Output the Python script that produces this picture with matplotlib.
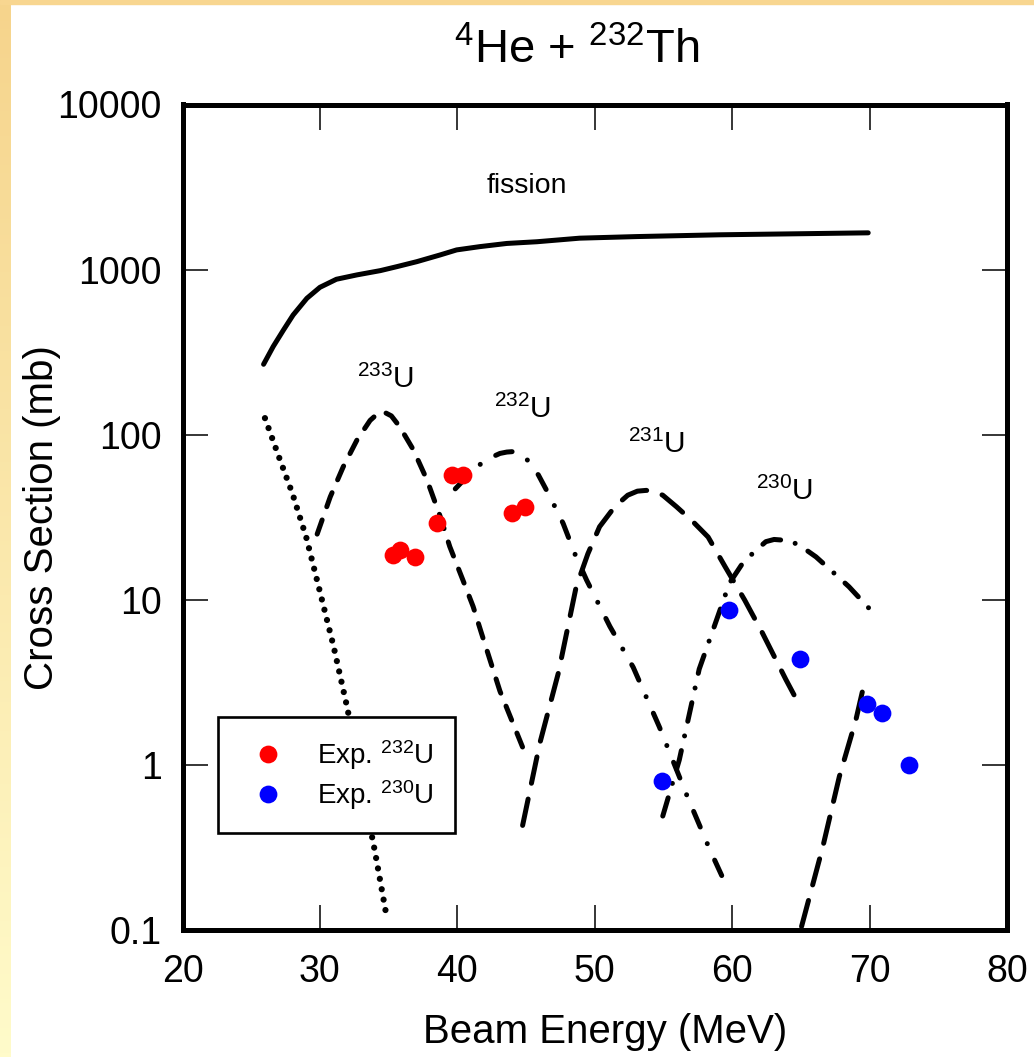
import matplotlib
matplotlib.use("Agg")
import numpy as np
import matplotlib.pyplot as plt
from matplotlib.colors import LinearSegmentedColormap
from matplotlib.patches import Rectangle
from matplotlib.ticker import FuncFormatter, NullLocator


# values: beam energy (MeV) vs cross section (mb)

fission_e = [25.9, 26.6, 27.35, 28.05, 29.05, 30.0, 31.2, 32.7, 34.4, 35.6,
             37.05, 38.75, 39.95, 41.65, 43.6, 45.8, 48.9, 53.05, 59.1,
             65.2, 69.9]
fission_xs = [267, 342, 431, 531, 670, 781, 874, 929, 986, 1042,
              1117, 1227, 1316, 1378, 1440, 1475, 1550, 1585, 1625,
              1650, 1670]

# dotted curve on the far left
u234_e = [26.0, 27.0, 28.0, 29.0, 30.0, 31.0, 32.0, 33.0, 34.0, 34.9]
u234_xs = [126, 74, 44, 24, 11.2, 5.2, 2.2, 0.79, 0.30, 0.115]

u233_e = [29.8, 30.75, 31.7, 32.7, 33.65, 34.15, 34.6, 35.2, 35.8, 36.8,
          37.8, 38.75, 39.45, 40.4, 41.15, 41.75, 43.1, 44.8]
u233_xs = [25, 42, 64, 93, 122, 133, 138, 130, 112, 81,
           53, 32, 21, 13.2, 9.1, 6.3, 2.8, 1.25]

u232_e = [39.85, 40.9, 42.0, 43.1, 43.6, 44.05, 44.55, 45.0, 45.9, 46.75,
          47.7, 48.55, 49.4, 51.1, 52.8, 54.7, 56.65, 58.35, 59.65]
u232_xs = [47, 58, 70, 77, 78.5, 79, 77, 72, 57, 42,
           29, 19, 13.2, 6.9, 3.9, 1.7, 0.67, 0.31, 0.18]

u231_e = [44.75, 46.0, 47.35, 48.65, 49.5, 50.35, 51.45, 52.4, 53.1, 53.75,
          54.4, 54.95, 55.95, 57.1, 58.25, 59.5, 60.9, 62.2, 63.9, 64.9]
u231_xs = [0.43, 1.35, 3.6, 12, 19, 27.7, 36.6, 43, 45.5, 46,
           45, 43, 36.6, 30, 24, 15.8, 10, 6.3, 3.3, 2.3]

u230_e = [54.95, 56.15, 57.6, 58.85, 59.8, 60.75, 61.6, 62.45, 63.05, 63.65,
          64.3, 64.9, 66.1, 67.3, 68.5, 69.95]
u230_xs = [0.49, 1.07, 3.8, 7.5, 12.6, 16.6, 19.5, 22.5, 23.2, 23,
           22.5, 21.4, 18.2, 14.8, 12, 8.9]

# short rising branch on the right
u229_e = [65.05, 66.6, 67.8, 69.0, 69.7]
u229_xs = [0.105, 0.32, 0.85, 1.87, 3.35]

exp232_e = [35.3, 35.8, 36.9, 38.5, 39.6, 40.4, 44.0, 44.9]
exp232_xs = [18.7, 20, 18.2, 29, 57, 57, 33.5, 36.5]

exp230_e = [54.9, 59.8, 64.9, 69.8, 70.9, 72.9]
exp230_xs = [0.8, 8.7, 4.4, 2.34, 2.07, 1.0]


plt.rcParams["font.family"] = ["Liberation Sans", "DejaVu Sans"]
plt.rcParams["mathtext.default"] = "regular"
plt.rcParams["lines.scale_dashes"] = False

W, H = 1034, 1057
fig = plt.figure(figsize=(W / 100, H / 100), dpi=100, facecolor="white")

# slide background: yellow strip on the left, thin strip on top
bg = fig.add_axes([0, 0, 11 / W, 1], zorder=-5)
grad = np.linspace(0, 1, 256).reshape(-1, 1)
cmap = LinearSegmentedColormap.from_list("slide", ["#f6d48c", "#fffbca"])
bg.imshow(grad, aspect="auto", cmap=cmap, extent=(0, 1, 0, 1), origin="upper")
bg.axis("off")
fig.patches.append(Rectangle((0, 1 - 3.5 / H), 1, 3.5 / H,
                             transform=fig.transFigure, color="#f8d690",
                             zorder=-5))

# axes box
x0, x1, y0, y1 = 182.5, 1007, 104.5, 930
ax = fig.add_axes([x0 / W, 1 - y1 / H, (x1 - x0) / W, (y1 - y0) / H])

lw = 3.6
ax.plot(fission_e, fission_xs, color="k", lw=lw, solid_capstyle="round",
        solid_joinstyle="round")
ax.plot(u234_e, u234_xs, color="k", lw=4.5, ls=(0, (0.01, 7.6)),
        dash_capstyle="round")
ax.plot(u233_e, u233_xs, color="k", lw=lw, ls=(0, (10.8, 10.1)),
        dash_capstyle="round")
ax.plot(u232_e, u232_xs, color="k", lw=lw,
        ls=(0, (12.2, 13.0, 0.01, 13.0)), dash_capstyle="round")
ax.plot(u231_e, u231_xs, color="k", lw=lw, ls=(0, (19.4, 11.6)),
        dash_capstyle="round")
ax.plot(u230_e, u230_xs, color="k", lw=lw,
        ls=(0, (13.7, 10.8, 0.01, 10.8)), dash_capstyle="round")
ax.plot(u229_e, u229_xs, color="k", lw=lw, ls=(0, (19.4, 11.6)),
        dash_capstyle="round")

ax.plot(exp232_e, exp232_xs, "o", color="#ff0000", ms=12.8, mec="none",
        label=r"Exp. $^{232}$U", zorder=4)
ax.plot(exp230_e, exp230_xs, "o", color="#0000ff", ms=12.8, mec="none",
        label=r"Exp. $^{230}$U", zorder=4)

ax.set_yscale("log")
ax.set_xlim(20, 80)
ax.set_ylim(0.1, 10000)
ax.set_xticks([20, 30, 40, 50, 60, 70, 80])
ax.set_yticks([0.1, 1, 10, 100, 1000, 10000])
ax.yaxis.set_minor_locator(NullLocator())
ax.yaxis.set_major_formatter(FuncFormatter(lambda v, p: f"{v:g}"))

ax.tick_params(which="major", direction="in", length=18, width=1.1,
               top=True, right=True, labelsize=27, color="k")
ax.tick_params(axis="x", pad=17)
ax.tick_params(axis="y", pad=15)
for sp in ax.spines.values():
    sp.set_linewidth(3.6)

ax.set_xlabel("Beam Energy (MeV)", fontsize=29)
ax.set_ylabel("Cross Section (mb)", fontsize=29)
ax.xaxis.set_label_coords((605 - x0) / (x1 - x0), -(1013 - y1) / (y1 - y0))
ax.yaxis.set_label_coords(-(x0 - 61) / (x1 - x0), 0.5)

# curve labels
ax.text(45.05, 2900, "fission", fontsize=20.5, ha="center", va="baseline")
ax.text(34.75, 191, r"$^{233}$U", fontsize=21.5, ha="center", va="baseline")
ax.text(44.75, 126, r"$^{232}$U", fontsize=21.5, ha="center", va="baseline")
ax.text(54.5, 77, r"$^{231}$U", fontsize=21.5, ha="center", va="baseline")
ax.text(63.85, 40, r"$^{230}$U", fontsize=21.5, ha="center", va="baseline")

leg = ax.legend(loc="upper left",
                bbox_to_anchor=((218 - x0) / (x1 - x0), (y1 - 717) / (y1 - y0)),
                borderaxespad=0, fontsize=20, frameon=True, fancybox=False,
                edgecolor="k", framealpha=1, numpoints=1, handlelength=2.07,
                handletextpad=0.75, borderpad=0.75, labelspacing=0.23)
leg.get_frame().set_linewidth(1.9)

fig.text(577 / W, 1 - 63 / H, r"$^{4}$He + $^{232}$Th", fontsize=34,
         ha="center", va="baseline")

fig.savefig("out.png", dpi=100, facecolor=fig.get_facecolor())
